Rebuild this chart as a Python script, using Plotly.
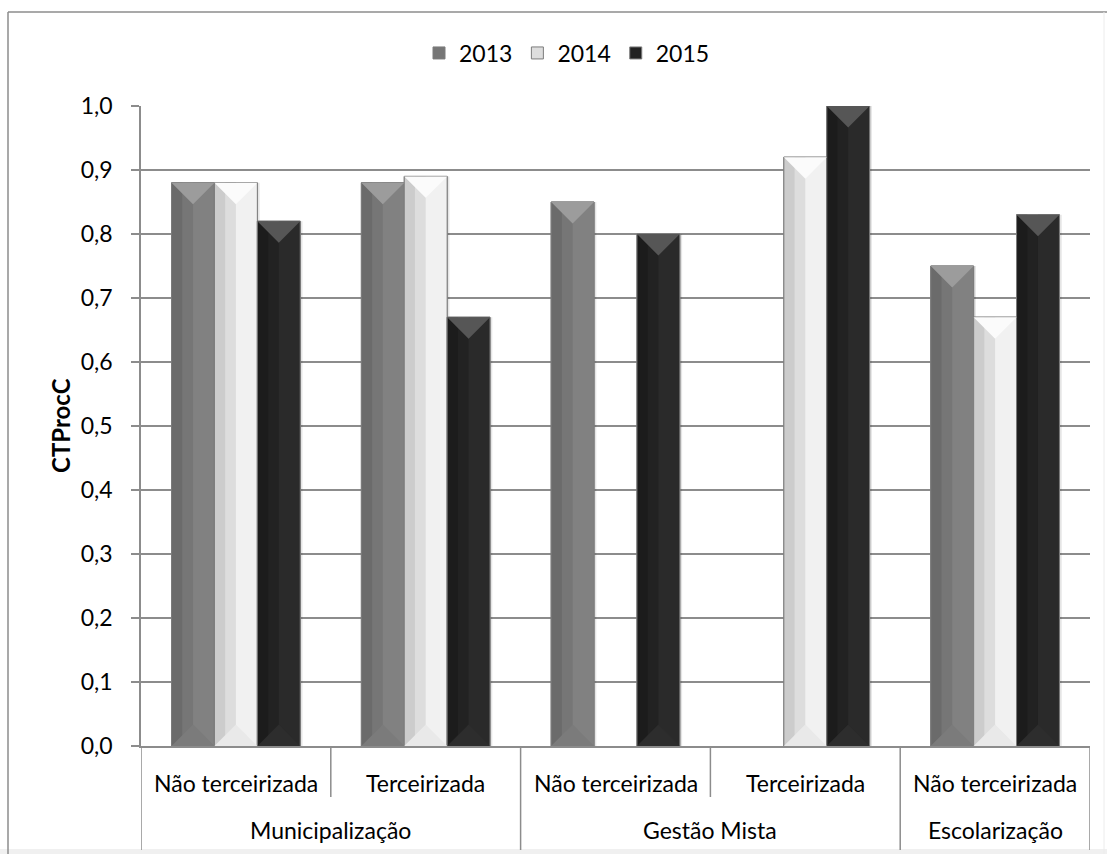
import plotly.graph_objects as go

# ---- data ----
groups = ["Municipalização", "Municipalização", "Gestão Mista", "Gestão Mista", "Escolarização"]
subcats = ["Não terceirizada", "Terceirizada", "Não terceirizada", "Terceirizada", "Não terceirizada"]
years = ["2013", "2014", "2015"]
v2013 = [0.88, 0.88, 0.85, None, 0.75]
v2014 = [0.88, 0.89, None, 0.92, 0.67]
v2015 = [0.82, 0.67, 0.80, 1.00, 0.83]
yticks = [0.0, 0.1, 0.2, 0.3, 0.4, 0.5, 0.6, 0.7, 0.8, 0.9, 1.0]

series = [v2013, v2014, v2015]

# ---- styling ----
W, H = 1107, 854
L, R, T, B = 141, 1090, 106, 746          # plot area in pixels
FONT = "Lato"
GRID = "#8c8c8c"

# left edge, left body, right body, top facet, bottom facet
palette = [
    ("#6b6b6b", "#767676", "#818181", "#9c9c9c", "#7b7b7b"),
    ("#cccccc", "#dddddd", "#f1f1f1", "#fbfbfb", "#e9e9e9"),
    ("#1c1c1c", "#222222", "#2a2a2a", "#565656", "#2d2d2d"),
]
OUTLINE = "#7c7c7c"

n = len(subcats)
bw = 0.226                                    # bar width in category units
offsets = [-bw, 0.0, bw]
px_per_unit_x = (R - L) / n
px_per_unit_y = (B - T) / 1.0
facet = (bw / 2) * px_per_unit_x / px_per_unit_y   # 45-degree bevel height


def pxx(X):
    return (X - L) / (R - L)


def pxy(Y):
    return (B - Y) / (B - T)


fig = go.Figure()

for k, (name, vals) in enumerate(zip(years, series)):
    edge_c, left_c, right_c, top_c, bot_c = palette[k]
    xs = [i + offsets[k] for i, v in enumerate(vals) if v is not None]
    ys = [v for v in vals if v is not None]

    # soft shadow on the right
    fig.add_trace(go.Bar(
        x=[x + 0.012 for x in xs], y=ys, width=bw, showlegend=False,
        marker=dict(color="rgba(0,0,0,0.10)", line=dict(width=0)), hoverinfo="skip"))

    # full bar body (left half tone)
    fig.add_trace(go.Bar(
        x=xs, y=ys, width=bw, name=name,
        marker=dict(color=left_c, line=dict(color=OUTLINE, width=1))))

    # darker strip along the left edge
    fig.add_trace(go.Bar(
        x=[x - 3 * bw / 8 for x in xs], y=ys, width=bw / 4, showlegend=False,
        marker=dict(color=edge_c, line=dict(width=0)), hoverinfo="skip"))

    # lighter right half
    fig.add_trace(go.Bar(
        x=[x + bw / 4 for x in xs], y=ys, width=bw / 2, showlegend=False,
        marker=dict(color=right_c, line=dict(width=0)), hoverinfo="skip"))

    # top bevel facet (inverted triangle)
    tx, ty = [], []
    for x, v in zip(xs, ys):
        tx += [x - bw / 2, x + bw / 2, x, x - bw / 2, None]
        ty += [v, v, v - facet, v, None]
    fig.add_trace(go.Scatter(
        x=tx, y=ty, mode="lines", fill="toself", fillcolor=top_c,
        line=dict(width=0, color=top_c), showlegend=False, hoverinfo="skip"))

    # bottom bevel facet
    bx, by = [], []
    for x, v in zip(xs, ys):
        bx += [x - bw / 2, x, x + bw / 2, x - bw / 2, None]
        by += [0, facet, 0, 0, None]
    fig.add_trace(go.Scatter(
        x=bx, y=by, mode="lines", fill="toself", fillcolor=bot_c,
        line=dict(width=0, color=bot_c), showlegend=False, hoverinfo="skip"))

    # outline on top
    fig.add_trace(go.Bar(
        x=xs, y=ys, width=bw, showlegend=False,
        marker=dict(color="rgba(0,0,0,0)", line=dict(color=OUTLINE, width=1)),
        hoverinfo="skip"))

# ---- category labels and dividers below the axis ----
LABEL_SIZE = 23
ann = []
for i, s in enumerate(subcats):
    ann.append(dict(x=i, y=pxy(783), xref="x", yref="paper", text=s, showarrow=False,
                    font=dict(family=FONT, size=LABEL_SIZE, color="#000"), xanchor="center",
                    yanchor="middle"))

spans = {}
for i, g in enumerate(groups):
    spans.setdefault(g, []).append(i)
for g, idx in spans.items():
    ann.append(dict(x=(idx[0] + idx[-1]) / 2, y=pxy(830), xref="x", yref="paper", text=g,
                    showarrow=False, font=dict(family=FONT, size=LABEL_SIZE, color="#000"),
                    xanchor="center", yanchor="middle"))

ann.append(dict(x=pxx(60), y=0.5, xref="paper", yref="paper", text="<b>CTProcC</b>",
                textangle=-90, showarrow=False,
                font=dict(family=FONT, size=24, color="#000"), xanchor="center",
                yanchor="middle"))

shapes = []
for b in range(n + 1):
    pos = b - 0.5
    full = b == 0 or b == n or groups[b - 1] != groups[b]
    shapes.append(dict(type="line", xref="x", yref="paper", x0=pos, x1=pos,
                       y0=0, y1=pxy(850 if full else 797),
                       line=dict(color=GRID, width=1.5)))

# chart frame
shapes.append(dict(type="line", xref="paper", yref="paper", x0=pxx(8), x1=pxx(8),
                   y0=pxy(12), y1=pxy(854), line=dict(color=GRID, width=1.5)))
shapes.append(dict(type="line", xref="paper", yref="paper", x0=pxx(8), x1=pxx(1107),
                   y0=pxy(12), y1=pxy(12), line=dict(color=GRID, width=1.5)))
shapes.append(dict(type="line", xref="paper", yref="paper", x0=pxx(1104), x1=pxx(1104),
                   y0=pxy(12), y1=pxy(854), line=dict(color="#ececec", width=1)))
shapes.append(dict(type="rect", xref="paper", yref="paper", x0=pxx(0), x1=pxx(1107),
                   y0=pxy(854), y1=pxy(849), fillcolor="#f0f0f0", line=dict(width=0),
                   layer="below"))

fig.update_layout(
    width=W, height=H,
    margin=dict(l=L, r=W - R, t=T, b=H - B, autoexpand=False),
    paper_bgcolor="white", plot_bgcolor="white",
    barmode="overlay", separators=", ",
    font=dict(family=FONT, size=23, color="#000"),
    showlegend=True,
    legend=dict(orientation="h", x=pxx(567), xanchor="center", y=pxy(53),
                yanchor="middle", font=dict(family=FONT, size=23, color="#000"),
                itemwidth=30, traceorder="normal", bgcolor="rgba(0,0,0,0)"),
    annotations=ann, shapes=shapes,
)

fig.update_xaxes(range=[-0.5, n - 0.5], showticklabels=False, showgrid=False,
                 zeroline=False, showline=True, linecolor=GRID, linewidth=1.5,
                 ticks="", fixedrange=True)
fig.update_yaxes(range=[0, 1.0], tickvals=yticks, tickformat=".1f", showgrid=True,
                 gridcolor=GRID, gridwidth=1.5, zeroline=False, showline=True,
                 linecolor=GRID, linewidth=1.5, ticks="outside", ticklen=8,
                 tickcolor=GRID, tickwidth=1.5, ticklabelstandoff=14,
                 tickfont=dict(family=FONT, size=23, color="#000"), fixedrange=True)

fig.write_html("out.html")
